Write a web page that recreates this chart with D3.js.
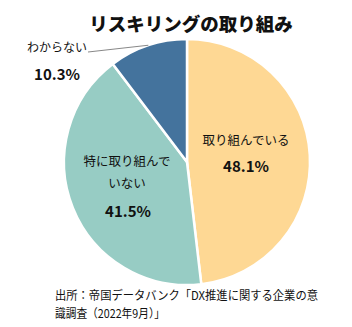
<!DOCTYPE html>
<html><head><meta charset="utf-8">
<script src="https://cdn.jsdelivr.net/npm/d3@7"></script>
<style>body{margin:0;background:#fff}svg{display:block}text{font-family:"Noto Sans CJK JP","Noto Sans",sans-serif}</style>
</head><body>
<script>
const categories = ["取り組んでいる", "特に取り組んでいない", "わからない"];
const values = [48.1, 41.5, 10.3];
const labels = ["48.1%", "41.5%", "10.3%"];
const colors = ["#FED894", "#97CCC4", "#44739D"];
const title = "リスキリングの取り組み";
const source = ["出所：帝国データバンク「DX推進に関する企業の意", "識調査（2022年9月）」"];

const W = 352, H = 327, cx = 187, cy = 162, R = 123;
const svg = d3.select("body").append("svg").attr("width", W).attr("height", H);

const pie = d3.pie().sort(null).value(d => d)(values);
const arc = d3.arc().innerRadius(0).outerRadius(R);
const g = svg.append("g").attr("transform", `translate(${cx},${cy})`);
g.selectAll("path").data(pie).join("path")
  .attr("d", arc).attr("fill", (d, i) => colors[i])
  .attr("stroke", "#fff").attr("stroke-width", 2.5);

svg.append("text").attr("x", 191).attr("y", 31).attr("text-anchor", "middle")
  .attr("font-size", 18.5).attr("font-weight", 900).attr("fill", "#111").text(title);

const lab = svg.append("g").attr("fill", "#111");
function t(x, y, s, size, bold) {
  lab.append("text").attr("x", x).attr("y", y).attr("font-size", size)
    .attr("font-weight", bold ? 700 : 400).attr("text-anchor", "middle").text(s);
}
t(246, 145, "取り組んでいる", 12.5, false);
t(246, 172, labels[0], 15, true);
t(127, 166, "特に取り組んで", 12.5, false);
t(127, 188, "いない", 12.5, false);
t(128, 217, labels[1], 15, true);
t(57, 52, categories[2], 12, false);
t(57, 80, labels[2], 15, true);

const a = -0.32;
svg.append("polyline").attr("fill", "none").attr("stroke", "#888").attr("stroke-width", 1)
  .attr("points", `88,52 ${cx + R * Math.sin(a)},${cy - R * Math.cos(a)}`);

const widths = [263, 110];
svg.append("g").selectAll("text").data(source).join("text")
  .attr("x", 55).attr("y", (d, i) => 300 + i * 18).attr("font-size", 12).attr("fill", "#111")
  .attr("textLength", (d, i) => widths[i]).attr("lengthAdjust", "spacingAndGlyphs").text(d => d);
</script>
</body></html>
